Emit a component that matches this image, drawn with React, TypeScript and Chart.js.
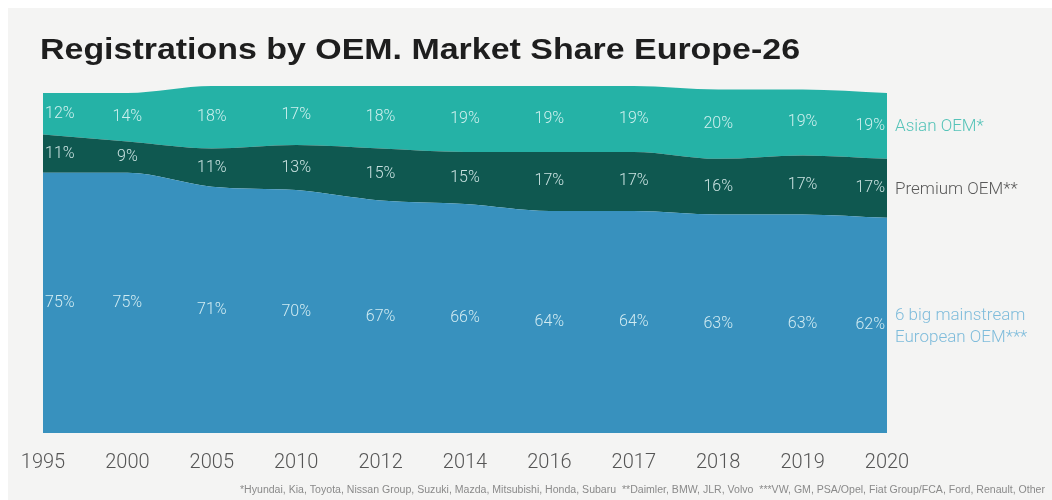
import React, { useEffect, useRef } from "react";
import { Chart, registerables } from "chart.js";

Chart.register(...registerables);

const years = ["1995", "2000", "2005", "2010", "2012", "2014", "2016", "2017", "2018", "2019", "2020"];
const mainstream = [75, 75, 71, 70, 67, 66, 64, 64, 63, 63, 62];
const premium = [11, 9, 11, 13, 15, 15, 17, 17, 16, 17, 17];
const asian = [12, 14, 18, 17, 18, 19, 19, 19, 20, 19, 19];

const title = "Registrations by OEM. Market Share Europe-26";
const seriesNames = ["6 big mainstream\nEuropean OEM***", "Premium OEM**", "Asian OEM*"];
const footnote =
  "*Hyundai, Kia, Toyota, Nissan Group, Suzuki, Mazda, Mitsubishi, Honda, Subaru  **Daimler, BMW, JLR, Volvo  ***VW, GM, PSA/Opel, Fiat Group/FCA, Ford, Renault, Other";

const COLORS = ["#3891be", "#0f5850", "#25b2a6"];
const NAME_COLORS = ["#7fbcdb", "#5a5a5a", "#55c3b8"];

function fillStretched(ctx: CanvasRenderingContext2D, text: string, x: number, y: number, width: number) {
  const w = ctx.measureText(text).width;
  ctx.save();
  ctx.translate(x, y);
  ctx.scale(width / w, 1);
  ctx.fillText(text, 0, 0);
  ctx.restore();
}

const overlay = {
  id: "overlay",
  afterDatasetsDraw(chart: any) {
    const { ctx, chartArea } = chart;
    const xs = chart.scales.x;
    const ys = chart.scales.y;
    const sets = [mainstream, premium, asian];
    ctx.save();
    // data labels
    ctx.font = "300 16px Roboto";
    ctx.textBaseline = "middle";
    const n = years.length;
    for (let i = 0; i < n; i++) {
      let base = 0;
      const x = xs.getPixelForValue(i);
      for (let s = 0; s < sets.length; s++) {
        const v = sets[s][i];
        const yMid = ys.getPixelForValue(base + v / 2);
        base += v;
        ctx.fillStyle = "rgba(235,250,250,0.85)";
        if (i === 0) {
          ctx.textAlign = "left";
          ctx.fillText(v + "%", x + 2, yMid);
        } else if (i === n - 1) {
          ctx.textAlign = "right";
          ctx.fillText(v + "%", x - 2, yMid);
        } else {
          ctx.textAlign = "center";
          ctx.fillText(v + "%", x, yMid);
        }
      }
    }
    // series names at right
    const last = n - 1;
    let base = 0;
    ctx.font = "300 17px Roboto";
    ctx.textAlign = "left";
    for (let s = 0; s < sets.length; s++) {
      const v = sets[s][last];
      const yMid = ys.getPixelForValue(base + v / 2);
      base += v;
      const lines = seriesNames[s].split("\n");
      ctx.fillStyle = NAME_COLORS[s];
      const lh = 22;
      lines.forEach((ln, k) => {
        ctx.fillText(ln, chartArea.right + 8, yMid + 1 + (k - (lines.length - 1) / 2) * lh);
      });
    }
    // x labels
    ctx.font = "300 20px Roboto";
    ctx.fillStyle = "#555555";
    ctx.textAlign = "center";
    ctx.textBaseline = "middle";
    years.forEach((y, i) => {
      ctx.fillText(y, xs.getPixelForValue(i), 463);
    });
    // title
    ctx.font = "bold 29px 'Liberation Sans'";
    ctx.fillStyle = "#1e1e1e";
    ctx.textAlign = "left";
    ctx.textBaseline = "alphabetic";
    fillStretched(ctx, title, 40, 59, 760);
    // footnote
    ctx.font = "10px 'Liberation Sans'";
    ctx.fillStyle = "#8a8a8a";
    ctx.textAlign = "left";
    fillStretched(ctx, footnote, 240, 493, 805);
    ctx.restore();
  },
};

export default function App() {
  const ref = useRef<HTMLCanvasElement | null>(null);
  useEffect(() => {
    if (!ref.current) return;
    const chart = new Chart(ref.current, {
      type: "line",
      data: {
        labels: years,
        datasets: [
          { label: "mainstream", data: mainstream, backgroundColor: COLORS[0], borderColor: COLORS[0], fill: "origin" },
          { label: "premium", data: premium, backgroundColor: COLORS[1], borderColor: COLORS[1], fill: "-1" },
          { label: "asian", data: asian, backgroundColor: COLORS[2], borderColor: COLORS[2], fill: "-1" },
        ],
      },
      options: {
        responsive: false,
        animation: false,
        layout: { padding: { left: 43, right: 165, top: 86, bottom: 67 } },
        elements: {
          point: { radius: 0 },
          line: { borderWidth: 0, tension: 0.3, cubicInterpolationMode: "monotone" },
        },
        plugins: { legend: { display: false }, tooltip: { enabled: false }, title: { display: false } },
        scales: {
          x: { display: false, offset: false },
          y: { display: false, stacked: true, min: 0, max: 100 },
        },
      },
      plugins: [overlay],
    });
    return () => chart.destroy();
  }, []);
  return (
    <div style={{ position: "fixed", left: 0, top: 0, width: 1052, height: 500, background: "#ffffff" }}>
      <div style={{ position: "absolute", left: 8, top: 8, right: 0, bottom: 0, background: "#f4f4f3" }} />
      <canvas ref={ref} width={1052} height={500} style={{ position: "absolute", left: 0, top: 0 }} />
    </div>
  );
}
